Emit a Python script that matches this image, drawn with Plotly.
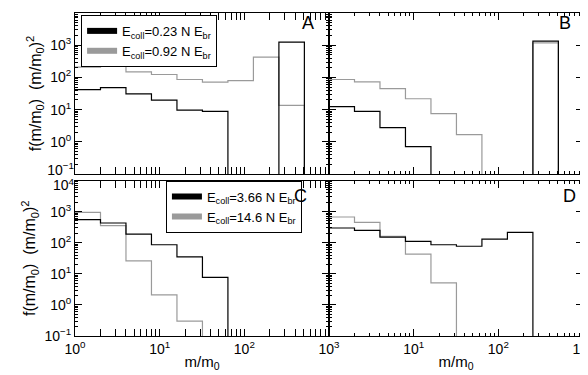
import plotly.graph_objects as go

# mass bins (factor of 2), values read per bin; 0 = empty bin
bin_edges = [1, 2, 4, 8, 16, 32, 64, 128, 256, 512]

a_black = [42, 48, 31, 19.8, 9.7, 8.8, 0, 0, 1240]
a_gray = [208, 224, 149, 123, 86, 71, 80, 425, 13.5]
b_black = [12.3, 8.8, 2.75, 0.71, 0, 0, 0, 0, 1330]
b_gray = [86, 73, 45, 21.7, 7.5, 1.67, 0, 0, 1180]
c_black = [550, 430, 190, 86, 35, 7.7, 0, 0, 0]
c_gray = [950, 352, 26, 2.1, 0.30, 0, 0, 0, 0]
d_black = [297, 250, 152, 111, 86, 77, 131, 216, 0]
d_gray = [670, 453, 161, 43, 5.1, 0, 0, 0, 0]

legend_top = ["E<sub>coll</sub>=0.23 N E<sub>br</sub>", "E<sub>coll</sub>=0.92 N E<sub>br</sub>"]
legend_bottom = ["E<sub>coll</sub>=3.66 N E<sub>br</sub>", "E<sub>coll</sub>=14.6 N E<sub>br</sub>"]
panel_labels = ["A", "B", "C", "D"]

x_ticks = [1, 10, 100, 1000]
x_ticktext = ["10<sup>0</sup>", "10<sup>1</sup>", "10<sup>2</sup>", "10<sup>3</sup>"]
y_ticks = [0.1, 1, 10, 100, 1000, 10000]
y_ticktext = ["10<sup>\u22121</sup>", "10<sup>0</sup>", "10<sup>1</sup>", "10<sup>2</sup>",
              "10<sup>3</sup>", "10<sup>4</sup>"]

BLACK = "#000000"
GRAY = "#9a9a9a"
FLOOR = 1e-3  # empty bins drawn below the axis like IDL does
FONT = "Liberation Sans, Arial, sans-serif"


def step_y(vals):
    return [v if v > 0 else FLOOR for v in vals] + [FLOOR]


def minor_vals(lo, hi):
    out = []
    for d in range(lo, hi):
        for k in range(2, 10):
            out.append(k * 10 ** d)
    return out


fig = go.Figure()

panels = [
    ("x", "y", a_black, a_gray),
    ("x2", "y2", b_black, b_gray),
    ("x3", "y3", c_black, c_gray),
    ("x4", "y4", d_black, d_gray),
]
for xa, ya, blk, gry in panels:
    fig.add_trace(go.Scatter(x=bin_edges, y=step_y(gry), mode="lines", line_shape="hv",
                             line=dict(color=GRAY, width=1.2), xaxis=xa, yaxis=ya,
                             showlegend=False, hoverinfo="skip"))
    fig.add_trace(go.Scatter(x=bin_edges, y=step_y(blk), mode="lines", line_shape="hv",
                             line=dict(color=BLACK, width=1.2), xaxis=xa, yaxis=ya,
                             showlegend=False, hoverinfo="skip"))

# empty traces so the overlay label axes get drawn
for xa, ya in [("x", "y5"), ("x3", "y6")]:
    fig.add_trace(go.Scatter(x=[None], y=[None], mode="lines", xaxis=xa, yaxis=ya,
                             showlegend=False, hoverinfo="skip"))

# legend entries (thick sample lines)
for name, col in zip(legend_top, [BLACK, GRAY]):
    fig.add_trace(go.Scatter(x=[None], y=[None], mode="lines", name=name,
                             line=dict(color=col, width=6), xaxis="x", yaxis="y",
                             legend="legend"))
for name, col in zip(legend_bottom, [BLACK, GRAY]):
    fig.add_trace(go.Scatter(x=[None], y=[None], mode="lines", name=name,
                             line=dict(color=col, width=6), xaxis="x3", yaxis="y3",
                             legend="legend2"))

axis_common = dict(type="log", showline=True, linecolor="black", linewidth=1,
                   mirror="allticks", ticks="inside", ticklen=7, tickcolor="black",
                   showgrid=False, zeroline=False, automargin=False,
                   tickfont=dict(size=14, color="black"))

top_dom = [0.5015, 1.0]
bot_dom = [0.0, 0.4814]
left_dom = [0.0, 0.5]
right_dom = [0.5, 1.0]

xm = dict(ticks="inside", ticklen=3, tickcolor="black", tickmode="array",
          tickvals=minor_vals(0, 3), showgrid=False)
ym = dict(ticks="inside", ticklen=3, tickcolor="black", tickmode="array",
          tickvals=minor_vals(-1, 4), showgrid=False)

y_title = dict(text="f(m/m<sub>0</sub>)  (m/m<sub>0</sub>)<sup>2</sup>",
               font=dict(size=16, color="black"), standoff=4)
x_title = dict(text="m/m<sub>0</sub>", font=dict(size=15, color="black"), standoff=0)

# end labels that IDL nudges inward so they don't collide between rows
end_label = dict(type="log", range=[-1, 4], showline=False, ticks="", showgrid=False,
                 zeroline=False, automargin=False, tickfont=dict(size=14, color="black"))

fig.update_layout(
    xaxis=dict(axis_common, domain=left_dom, range=[0, 3], anchor="y", tickvals=x_ticks,
               showticklabels=False, minor=xm),
    xaxis2=dict(axis_common, domain=right_dom, range=[0, 3], anchor="y2", tickvals=x_ticks,
                showticklabels=False, minor=xm),
    xaxis3=dict(axis_common, domain=left_dom, range=[0, 3], anchor="y3", tickvals=x_ticks,
                ticktext=x_ticktext, minor=xm, title=x_title),
    xaxis4=dict(axis_common, domain=right_dom, range=[0, 3], anchor="y4", tickvals=x_ticks[1:],
                ticktext=x_ticktext[1:], minor=xm, title=x_title),
    yaxis=dict(axis_common, domain=top_dom, range=[-1, 4], anchor="x", tickvals=y_ticks,
               ticktext=[""] + y_ticktext[1:], minor=ym, title=y_title),
    yaxis2=dict(axis_common, domain=top_dom, range=[-1, 4], anchor="x2", tickvals=y_ticks,
                showticklabels=False, minor=ym),
    yaxis3=dict(axis_common, domain=bot_dom, range=[-1, 4], anchor="x3", tickvals=y_ticks,
                ticktext=y_ticktext[:-1] + [""], minor=ym, title=y_title),
    yaxis4=dict(axis_common, domain=bot_dom, range=[-1, 4], anchor="x4", tickvals=y_ticks,
                showticklabels=False, minor=ym),
    yaxis5=dict(end_label, overlaying="y", anchor="x", side="left",
                tickvals=y_ticks[:1], ticktext=y_ticktext[:1], ticklabelshift=-4),
    yaxis6=dict(end_label, overlaying="y3", anchor="x3", side="left",
                tickvals=y_ticks[-1:], ticktext=y_ticktext[-1:], ticklabelshift=5),
    legend=dict(x=0.012, y=0.994, xanchor="left", yanchor="top", bgcolor="white",
                bordercolor="black", borderwidth=1, font=dict(size=13, color="black"),
                itemwidth=30, tracegroupgap=0),
    legend2=dict(x=0.179, y=0.481, xanchor="left", yanchor="top", bgcolor="white",
                 bordercolor="black", borderwidth=1, font=dict(size=13, color="black"),
                 itemwidth=30, tracegroupgap=0),
    width=588, height=375,
    margin=dict(l=67, r=13, t=5, b=47),
    plot_bgcolor="white", paper_bgcolor="white",
    font=dict(family=FONT, color="black"),
)

label_pos = [("x", "y", 0.917, 0.94), ("x2", "y2", 0.93, 0.94),
             ("x3", "y3", 0.888, 0.90), ("x4", "y4", 0.945, 0.90)]
for lab, (xa, ya, px, py) in zip(panel_labels, label_pos):
    fig.add_annotation(text=lab, xref=xa + " domain", yref=ya + " domain", x=px, y=py,
                       showarrow=False, font=dict(size=18, color="black"),
                       xanchor="center", yanchor="middle")

fig.write_html("out.html")
